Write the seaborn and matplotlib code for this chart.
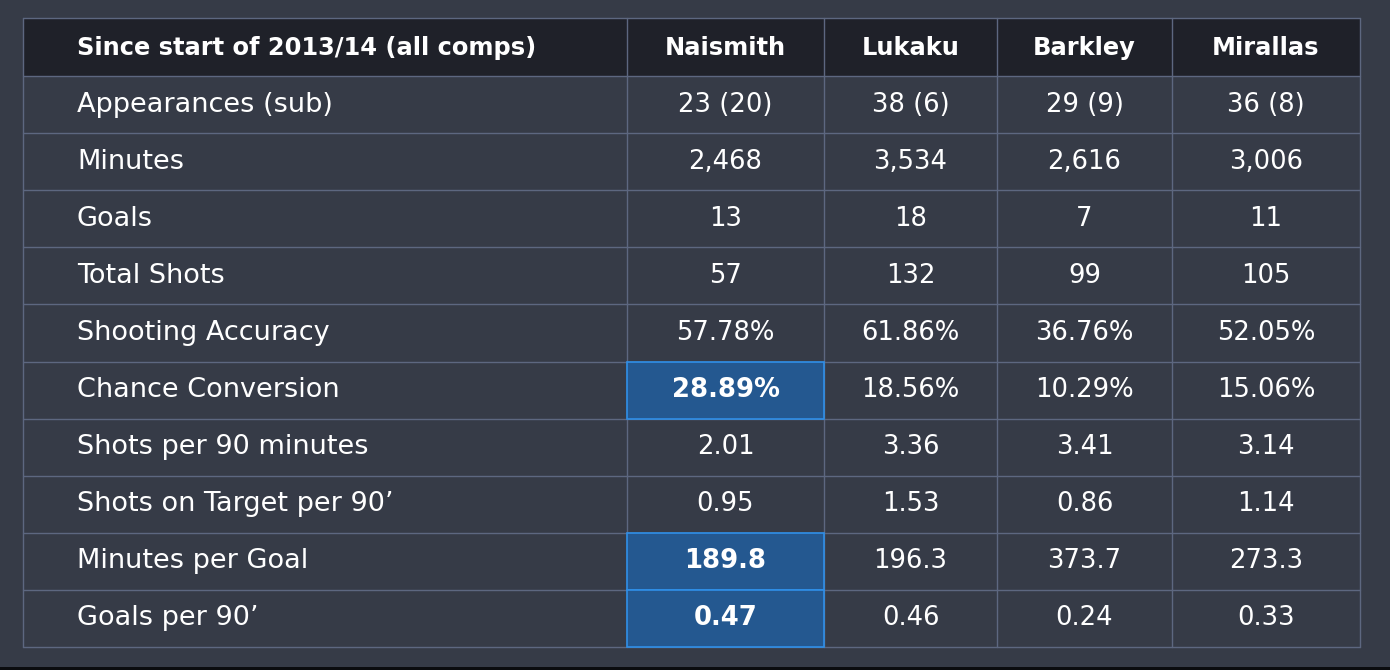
import matplotlib
matplotlib.use("Agg")
import matplotlib.pyplot as plt
from matplotlib.patches import Rectangle
import seaborn as sns

sns.set_style("dark")
plt.rcParams['font.family'] = ['DejaVu Sans']

header_title = "Since start of 2013/14 (all comps)"
players = ["Naismith", "Lukaku", "Barkley", "Mirallas"]
metrics = ["Appearances (sub)", "Minutes", "Goals", "Total Shots", "Shooting Accuracy",
           "Chance Conversion", "Shots per 90 minutes", "Shots on Target per 90\u2019",
           "Minutes per Goal", "Goals per 90\u2019"]
naismith = ["23 (20)", "2,468", "13", "57", "57.78%", "28.89%", "2.01", "0.95", "189.8", "0.47"]
lukaku = ["38 (6)", "3,534", "18", "132", "61.86%", "18.56%", "3.36", "1.53", "196.3", "0.46"]
barkley = ["29 (9)", "2,616", "7", "99", "36.76%", "10.29%", "3.41", "0.86", "373.7", "0.24"]
mirallas = ["36 (8)", "3,006", "11", "105", "52.05%", "15.06%", "3.14", "1.14", "273.3", "0.33"]
# highlighted (best) cells: (metric index, player index)
highlights = [(5, 0), (8, 0), (9, 0)]

values = [naismith, lukaku, barkley, mirallas]

BG = "#363b47"
HEADER = "#1f2129"
GRID = "#5d6780"
HIL = "#245890"
HIL_EDGE = "#2f8fe8"

W, H = 1390, 670
fig = plt.figure(figsize=(W / 100, H / 100), dpi=100)
fig.patch.set_facecolor(BG)
ax = fig.add_axes([0, 0, 1, 1])
ax.set_xlim(0, W)
ax.set_ylim(H, 0)
ax.axis("off")
ax.set_facecolor(BG)

# black strip at bottom
ax.add_patch(Rectangle((0, 667), W, 3, facecolor="#0b0c0f", edgecolor="none"))

col_edges = [23, 627, 824, 997, 1172, 1360]
top, head_bot, row_h = 18, 76, 57.1
n = len(metrics)
row_edges = [top, head_bot] + [head_bot + row_h * (i + 1) for i in range(n)]

# header background
ax.add_patch(Rectangle((col_edges[0], top), col_edges[-1] - col_edges[0], head_bot - top,
                       facecolor=HEADER, edgecolor="none"))

# grid lines
for x in col_edges:
    ax.plot([x, x], [top, row_edges[-1]], color=GRID, lw=1.0)
for y in row_edges:
    ax.plot([col_edges[0], col_edges[-1]], [y, y], color=GRID, lw=1.0)

fs_head, fs_lab, fs_num = 17.4, 19.5, 18.6
# header text
ax.text(77, (top + head_bot) / 2 + 1, header_title, color="white", fontsize=fs_head,
        fontweight="bold", va="center", ha="left")
for j, p in enumerate(players):
    cx = (col_edges[j + 1] + col_edges[j + 2]) / 2
    ax.text(cx, (top + head_bot) / 2 + 1, p, color="white", fontsize=fs_head, fontweight="bold",
            va="center", ha="center")

for i, m in enumerate(metrics):
    y0, y1 = row_edges[i + 1], row_edges[i + 2]
    cy = (y0 + y1) / 2
    ax.text(77, cy, m, color="white", fontsize=fs_lab, fontweight="normal", va="center", ha="left")
    for j in range(len(players)):
        x0, x1 = col_edges[j + 1], col_edges[j + 2]
        hl = (i, j) in highlights
        if hl:
            ax.add_patch(Rectangle((x0, y0), x1 - x0, y1 - y0, facecolor=HIL,
                                   edgecolor=HIL_EDGE, lw=1.2, zorder=3))
        ax.text((x0 + x1) / 2, cy, values[j][i], color="white", fontsize=fs_num,
                fontweight="bold" if hl else "normal", va="center", ha="center", zorder=4)

fig.savefig("out.png", dpi=100, facecolor=BG)
